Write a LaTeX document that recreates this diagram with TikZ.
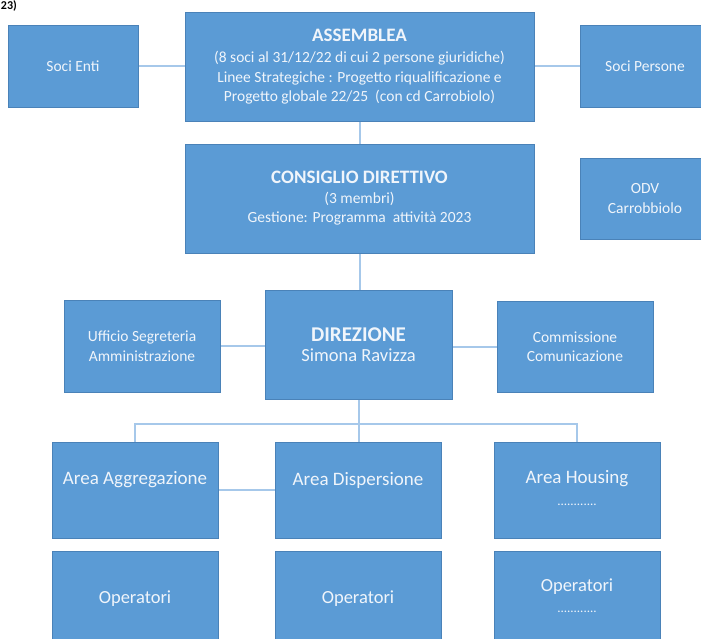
\documentclass[tikz,border=0pt]{standalone}
\usepackage{fontspec}
\setmainfont{Carlito}
\usetikzlibrary{backgrounds}
\definecolor{boxfill}{HTML}{5B9BD5}
\definecolor{boxline}{HTML}{4A82B8}
\definecolor{connc}{HTML}{A6C8EA}
\definecolor{txtc}{HTML}{F0F5FB}
\tikzset{
  box/.style={draw=boxline, line width=0.8pt, fill=boxfill, text=txtc, align=center,
    inner sep=0pt, font=\fontsize{15.5}{19.5}\selectfont},
  conn/.style={draw=connc, line width=2pt},
  boxtext/.style={text=txtc, inner sep=0pt, align=center},
}
\newcommand{\ttl}[1]{{\fontsize{19}{22}\selectfont\bfseries #1}}
\begin{document}
\begin{tikzpicture}[x=1pt,y=-1pt]
\useasboundingbox (0,0) rectangle (701,639);
\clip (0,0) rectangle (701,639);

\node[anchor=base west, font=\fontsize{12}{12}\selectfont\bfseries, inner sep=0pt] (hdr) at (0.8,9.5) {23)};

% top row
\node[box, minimum width=130, minimum height=82] (soce) at (73,66) {Soci Enti};
\node[box, minimum width=349, minimum height=109] (ass) at (359.5,66.5)
  {\ttl{ASSEMBLEA}\\[2pt](8 soci al 31/12/22 di cui 2 persone giuridiche)\\
   Linee Strategiche : Progetto riqualificazione e\\
   Progetto globale 22/25 \ (con cd Carrobiolo)};
\node[box, minimum width=130, minimum height=82] (socp) at (645,66) {Soci Persone};

% second row
\node[box, minimum width=349, minimum height=109] (cons) at (359.5,198.5)
  {\ttl{CONSIGLIO DIRETTIVO}\\(3 membri)\\Gestione: Programma \ attività 2023};
\node[box, minimum width=130, minimum height=81] (odv) at (645,198.5) {ODV\\Carrobbiolo};

% third row
\node[box, minimum width=156, minimum height=92] (uff) at (142,346) {Ufficio Segreteria\\Amministrazione};
\node[box, minimum width=187, minimum height=109] (dir) at (358.5,344.5)
  {{\fontsize{21}{25}\selectfont\bfseries DIREZIONE}\\[1pt]{\fontsize{18.5}{22}\selectfont Simona Ravizza}};
\node[box, minimum width=156, minimum height=91] (com) at (575,346.5) {Commissione\\Comunicazione};

% areas
\node[box, minimum width=166, minimum height=96] (agg) at (135,490) {};
\node[boxtext, font=\fontsize{19}{22}\selectfont] (aggt) at (135,480) {Area Aggregazione};
\node[box, minimum width=166, minimum height=96] (disp) at (358,490) {};
\node[boxtext, font=\fontsize{19}{22}\selectfont] (dispt) at (358,480) {Area Dispersione};
\node[box, minimum width=166, minimum height=96] (hous) at (577,490) {};
\node[boxtext, font=\fontsize{19}{22}\selectfont] (houst) at (577,479) {Area Housing};
\node[boxtext, font=\fontsize{13}{13}\selectfont] (housd) at (577,505) {............};

% operatori
\node[box, minimum width=166, minimum height=96, font=\fontsize{18.5}{22}\selectfont] (op1) at (135,599) {Operatori};
\node[box, minimum width=166, minimum height=96, font=\fontsize{18.5}{22}\selectfont] (op2) at (358,599) {Operatori};
\node[box, minimum width=166, minimum height=96] (op3) at (577,599) {};
\node[boxtext, font=\fontsize{18.5}{22}\selectfont] (op3t) at (577,587) {Operatori};
\node[boxtext, font=\fontsize{13}{13}\selectfont] (op3d) at (577,612) {............};

\coordinate (bus) at (358,424);

\begin{scope}[on background layer]
\draw[conn] (soce.east) -- (soce.east -| ass.west);
\draw[conn] (socp.west) -- (socp.west -| ass.east);
\draw[conn] (ass.south) -- (ass.south |- cons.north);
\draw[conn] (cons.south) -- (cons.south |- dir.north);
\draw[conn] (uff.east) -- (uff.east -| dir.west);
\draw[conn] (com.west) -- (com.west -| dir.east);
\draw[conn] (dir.south) -- (dir.south |- disp.north);
\draw[conn] (agg.north) |- (bus) -| (hous.north);
\draw[conn] (agg.east) -- (disp.west);
\end{scope}
\end{tikzpicture}
\end{document}
